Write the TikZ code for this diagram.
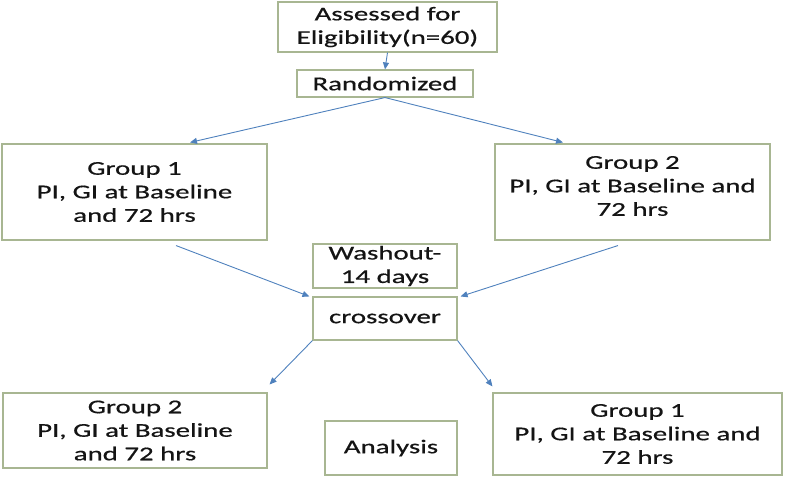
\documentclass[tikz,border=0pt]{standalone}
\usepackage{fontspec}
\setmainfont{Carlito}[FakeStretch=1.48,FakeBold=0.6]
\usetikzlibrary{arrows.meta}
\definecolor{boxc}{RGB}{168,182,146}
\definecolor{arrc}{RGB}{79,129,189}
\definecolor{txtc}{RGB}{20,20,20}
\begin{document}
\begin{tikzpicture}[x=1pt,y=-1pt,
  box/.style={draw=boxc, line width=1.1pt, fill=white, inner sep=0pt, align=center,
    text=txtc, font=\fontsize{19.5}{23.5}\selectfont},
  txt/.style={inner sep=0pt, align=center, text=txtc, font=\fontsize{19.5}{23.5}\selectfont},
  arr/.style={draw=arrc, line width=0.9pt, -{Triangle[length=7pt,width=6pt]}}]
\useasboundingbox (0,0) rectangle (788,481);
\node[box, minimum width=219, minimum height=50] (assess) at (387.5,27) {Assessed for\\Eligibility(n=60)};
\node[box, minimum width=176, minimum height=27] (rand) at (385,83.5) {Randomized};
\node[box, minimum width=265, minimum height=96] (g1) at (134.5,192) {Group 1\\PI, GI at Baseline\\and 72 hrs};
\node[box, minimum width=275, minimum height=96] (g2) at (632.5,192) {};
\node[txt] (g2t) at ([yshift=6pt]g2.center) {Group 2\\PI, GI at Baseline and\\72 hrs};
\node[box, minimum width=144, minimum height=44] (wash) at (385,266) {Washout-\\14 days};
\node[box, minimum width=144, minimum height=43] (cross) at (385,318.5) {crossover};
\node[box, minimum width=264, minimum height=75] (lg2) at (135,430.5) {Group 2\\PI, GI at Baseline\\and 72 hrs};
\node[box, minimum width=132, minimum height=54] (anal) at (391,448) {Analysis};
\node[box, minimum width=289, minimum height=82] (lg1) at (637.5,434) {Group 1\\PI, GI at Baseline and\\72 hrs};
\draw[arr] (assess.south) -- (rand.north);
\draw[arr] (rand.south) -- ([xshift=55.5pt,yshift=1pt]g1.north);
\draw[arr] (rand.south) -- ([xshift=-69.5pt,yshift=1pt]g2.north);
\draw[arr] ([xshift=41.5pt,yshift=-5pt]g1.south) -- ([xshift=-3pt]cross.north west);
\draw[arr] ([xshift=-14.5pt,yshift=-5pt]g2.south) -- ([xshift=3pt]cross.north east);
\draw[arr] (cross.south west) -- ([xshift=2pt,yshift=8pt]lg2.north east);
\draw[arr] (cross.south east) -- ([yshift=6pt]lg1.north west);
\end{tikzpicture}
\end{document}
